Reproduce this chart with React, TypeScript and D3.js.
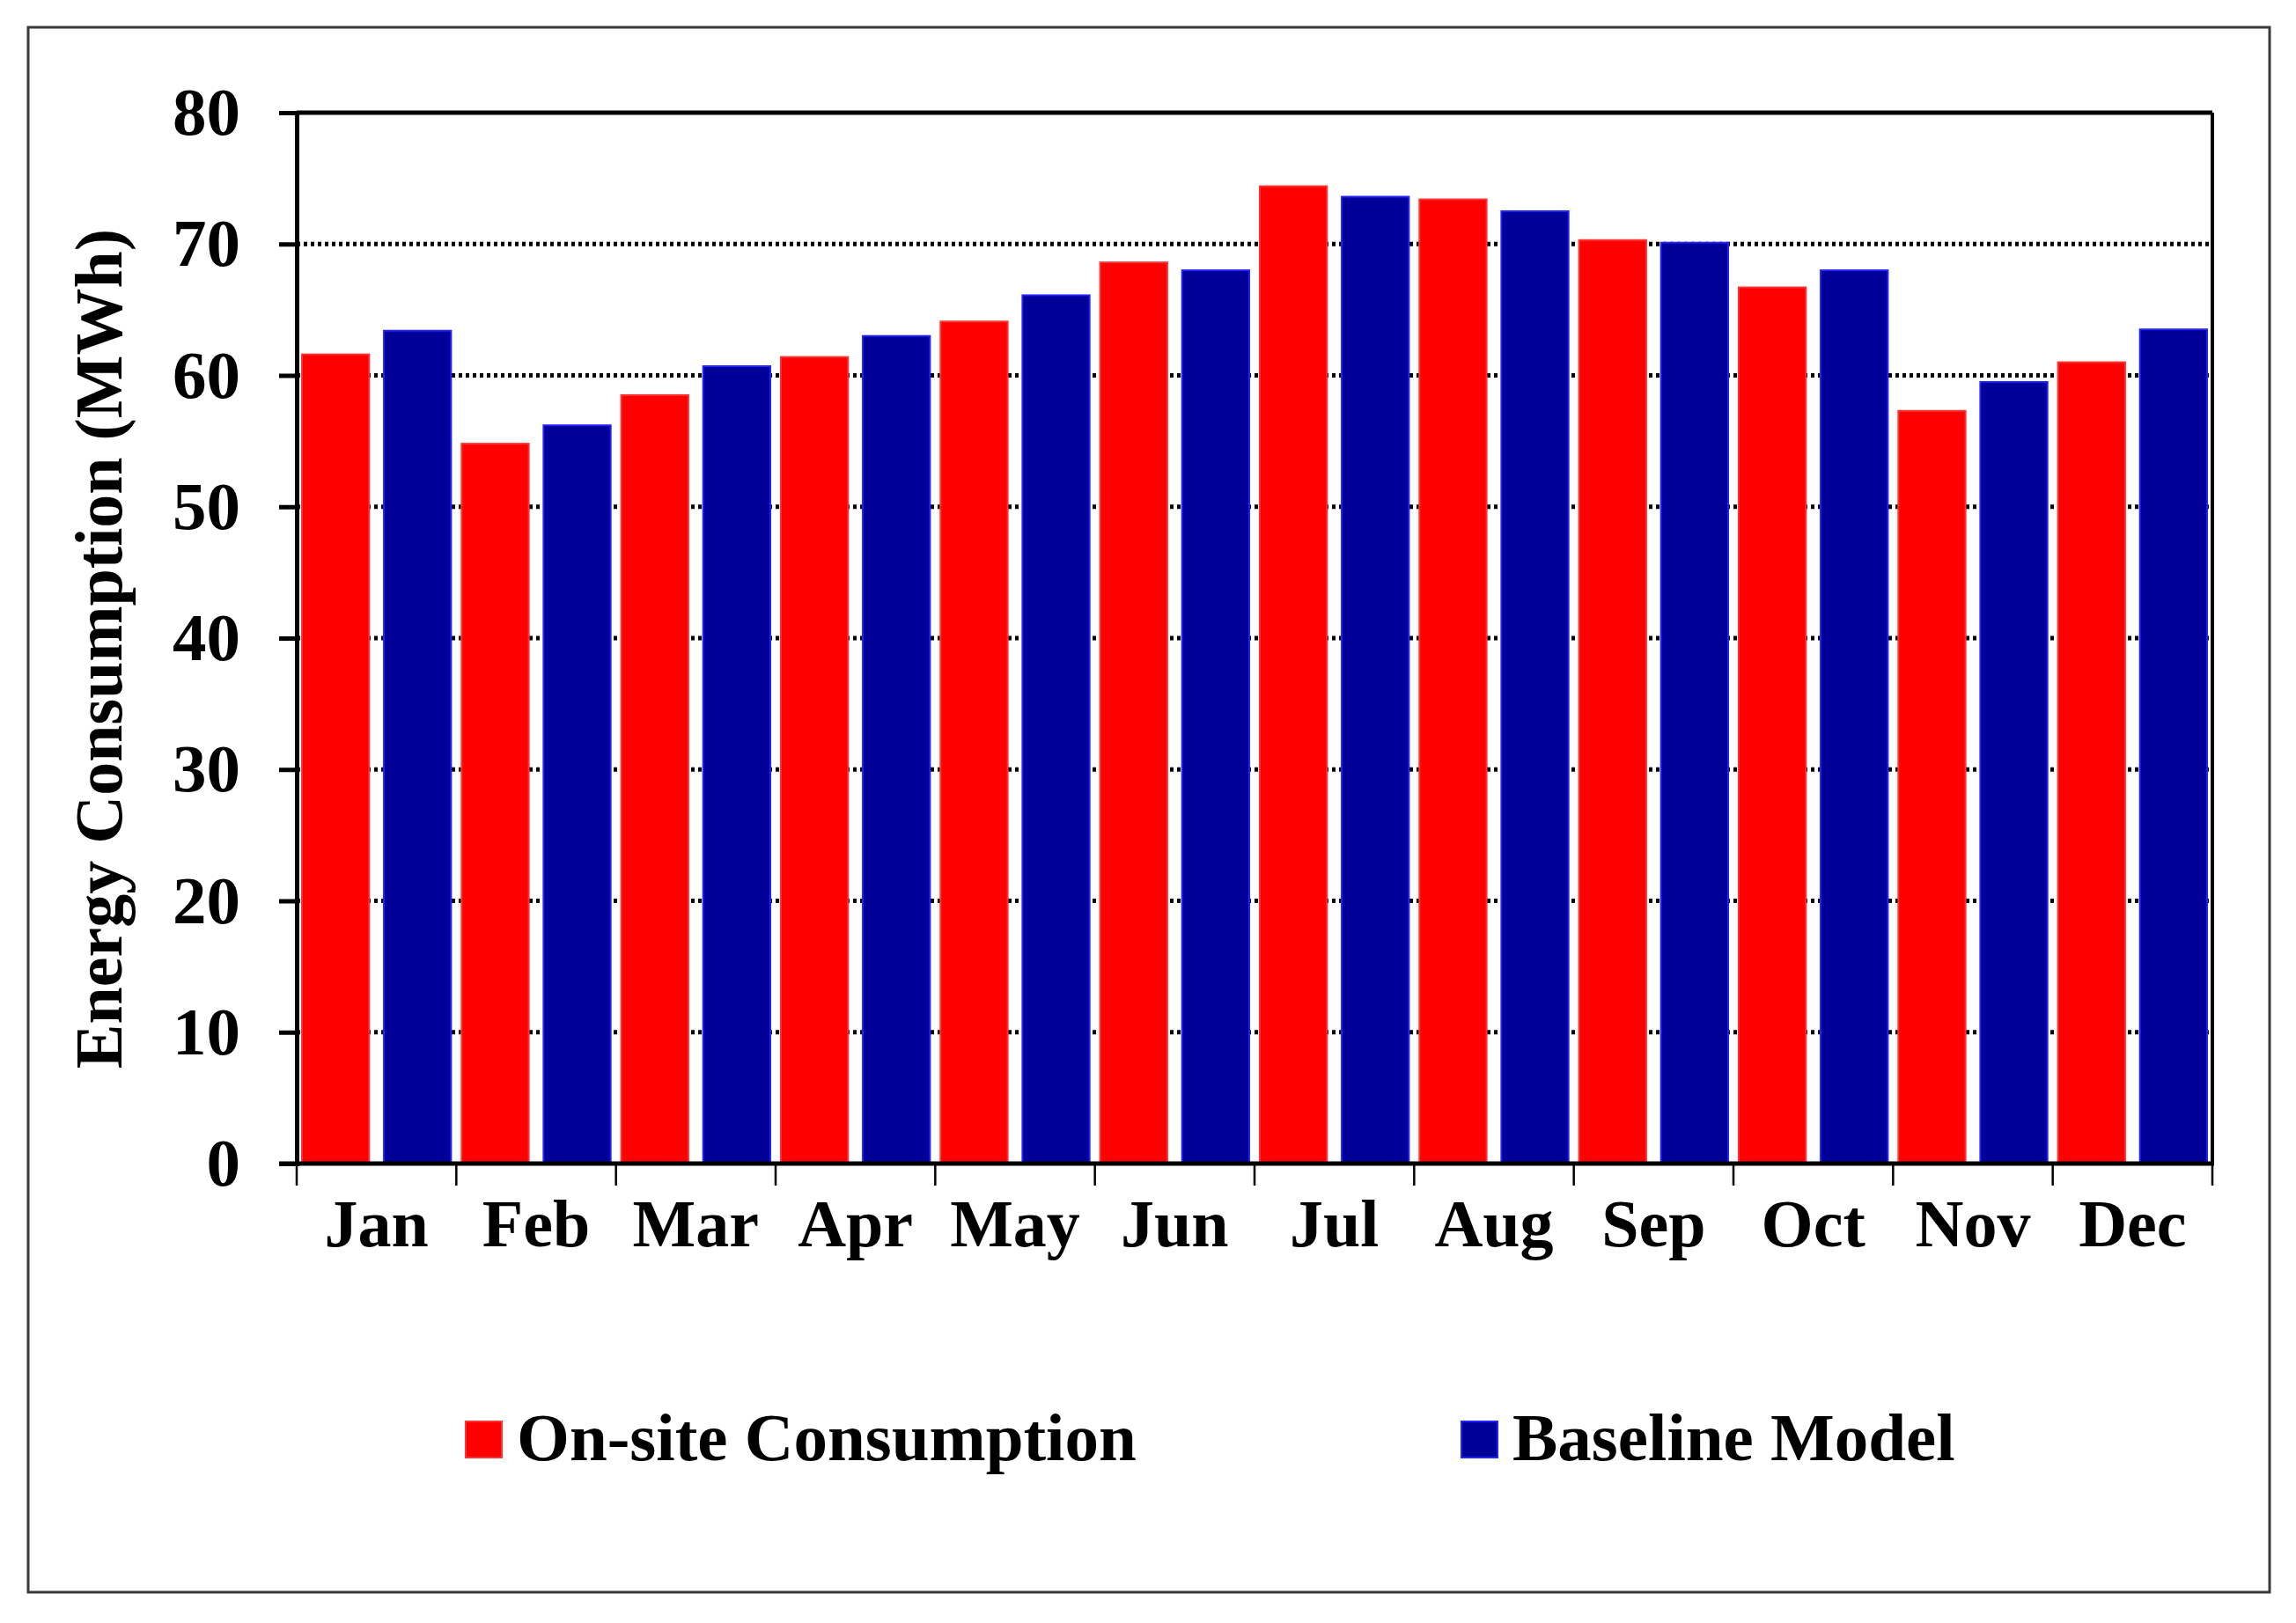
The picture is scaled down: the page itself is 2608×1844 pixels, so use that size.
import { useEffect, useRef } from 'react'
import * as d3 from 'd3'

const months = ['Jan', 'Feb', 'Mar', 'Apr', 'May', 'Jun', 'Jul', 'Aug', 'Sep', 'Oct', 'Nov', 'Dec']
const onSite = [61.6, 54.8, 58.5, 61.4, 64.1, 68.6, 74.4, 73.4, 70.3, 66.7, 57.3, 61.0]
const baseline = [63.4, 56.2, 60.7, 63.0, 66.1, 68.0, 73.6, 72.5, 70.1, 68.0, 59.5, 63.5]
const seriesNames = ['On-site Consumption', 'Baseline Model']
const seriesFill = ['#ff0000', '#000099']
const seriesEdge = ['#ff3333', '#2222ff']
const yTicks = [0, 10, 20, 30, 40, 50, 60, 70, 80]

const W = 2608
const H = 1844
const FONT = '"Liberation Serif", "Times New Roman", serif'

export default function App() {
  const ref = useRef<SVGSVGElement>(null)

  useEffect(() => {
    if (!ref.current) return
    const svg = d3.select(ref.current)
    svg.selectAll('*').remove()

    const left = 337, right = 2513, top = 128, bottom = 1322

    // outer frame
    svg.append('rect')
      .attr('x', 32).attr('y', 31)
      .attr('width', 2546).attr('height', 1778)
      .attr('fill', 'white')
      .attr('stroke', '#3a3a3a')
      .attr('stroke-width', 3)

    const x0 = d3.scaleBand<string>()
      .domain(months)
      .range([left, right])
      .paddingInner(0.066)
      .paddingOuter(0.033)

    const x1 = d3.scaleBand<number>()
      .domain([0, 1])
      .range([0, x0.bandwidth()])
      .paddingInner(0.18)

    const y = d3.scaleLinear().domain([0, 80]).range([bottom, top])

    // dotted grid
    svg.selectAll('.grid')
      .data(yTicks.filter(t => t > 0 && t < 80))
      .enter()
      .append('line')
      .attr('x1', left).attr('x2', right)
      .attr('y1', d => y(d)).attr('y2', d => y(d))
      .attr('stroke', '#000')
      .attr('stroke-width', 5)
      .attr('stroke-dasharray', '4,4')

    // bars
    const data = months.map((m, i) => ({ m, vals: [onSite[i], baseline[i]] }))
    const groups = svg.selectAll('.grp')
      .data(data)
      .enter()
      .append('g')
      .attr('transform', d => `translate(${x0(d.m)},0)`)

    groups.selectAll('rect')
      .data(d => d.vals.map((v, k) => ({ v, k })))
      .enter()
      .append('rect')
      .attr('x', d => x1(d.k) || 0)
      .attr('y', d => y(d.v))
      .attr('width', x1.bandwidth())
      .attr('height', d => bottom - y(d.v))
      .attr('fill', d => seriesFill[d.k])
      .attr('stroke', d => seriesEdge[d.k])
      .attr('stroke-width', 2)

    // plot frame
    svg.append('line').attr('x1', left).attr('x2', right).attr('y1', top).attr('y2', top)
      .attr('stroke', '#000').attr('stroke-width', 5)
    svg.append('line').attr('x1', right).attr('x2', right).attr('y1', top).attr('y2', bottom)
      .attr('stroke', '#000').attr('stroke-width', 4)

    // y axis
    const yAxis = d3.axisLeft(y)
      .tickValues(yTicks)
      .tickSize(20)
      .tickPadding(44)
      .tickFormat(d => `${d}`)
    const ya = svg.append('g')
      .attr('transform', `translate(${left},0)`)
      .call(yAxis)
    ya.select('.domain').attr('stroke', '#000').attr('stroke-width', 5)
    ya.selectAll('.tick line').attr('stroke', '#000').attr('stroke-width', 5)
    ya.selectAll('text')
      .attr('fill', '#000')
      .style('font-family', FONT)
      .style('font-size', '77px')
      .style('font-weight', 'bold')

    // x axis
    const xa = svg.append('g').attr('transform', `translate(0,${bottom})`)
    xa.append('line').attr('x1', left - 20).attr('x2', right + 2).attr('y1', 0).attr('y2', 0)
      .attr('stroke', '#000').attr('stroke-width', 5)
    const step = (right - left) / months.length
    xa.selectAll('.xtick')
      .data(d3.range(months.length + 1))
      .enter()
      .append('line')
      .attr('x1', i => left + i * step).attr('x2', i => left + i * step)
      .attr('y1', 0).attr('y2', 25)
      .attr('stroke', '#000').attr('stroke-width', 2.5)
    xa.selectAll('.xlabel')
      .data(months)
      .enter()
      .append('text')
      .attr('x', d => (x0(d) || 0) + x0.bandwidth() / 2)
      .attr('y', 94)
      .attr('text-anchor', 'middle')
      .text(d => d)
      .style('font-family', FONT)
      .style('font-size', '76px')
      .style('font-weight', 'bold')

    // y title
    svg.append('text')
      .attr('transform', `translate(138,${(top + bottom) / 2 + 12}) rotate(-90)`)
      .attr('text-anchor', 'middle')
      .text('Energy Consumption (MWh)')
      .style('font-family', FONT)
      .style('font-size', '76px')
      .style('font-weight', 'bold')

    // legend
    const legendX = [529, 1660]
    const legend = svg.selectAll('.leg')
      .data(seriesNames)
      .enter()
      .append('g')
      .attr('transform', (_d, i) => `translate(${legendX[i]},1615)`)
    legend.append('rect')
      .attr('width', 41).attr('height', 41)
      .attr('fill', (_d, i) => seriesFill[i])
      .attr('stroke', (_d, i) => seriesEdge[i])
      .attr('stroke-width', 2)
    legend.append('text')
      .attr('x', 58).attr('y', 44)
      .text(d => d)
      .style('font-family', FONT)
      .style('font-size', '77px')
      .style('font-weight', 'bold')
  }, [])

  return (
    <svg ref={ref} width={W} height={H}
      style={{ position: 'absolute', left: 0, top: 0, background: 'white' }} />
  )
}
